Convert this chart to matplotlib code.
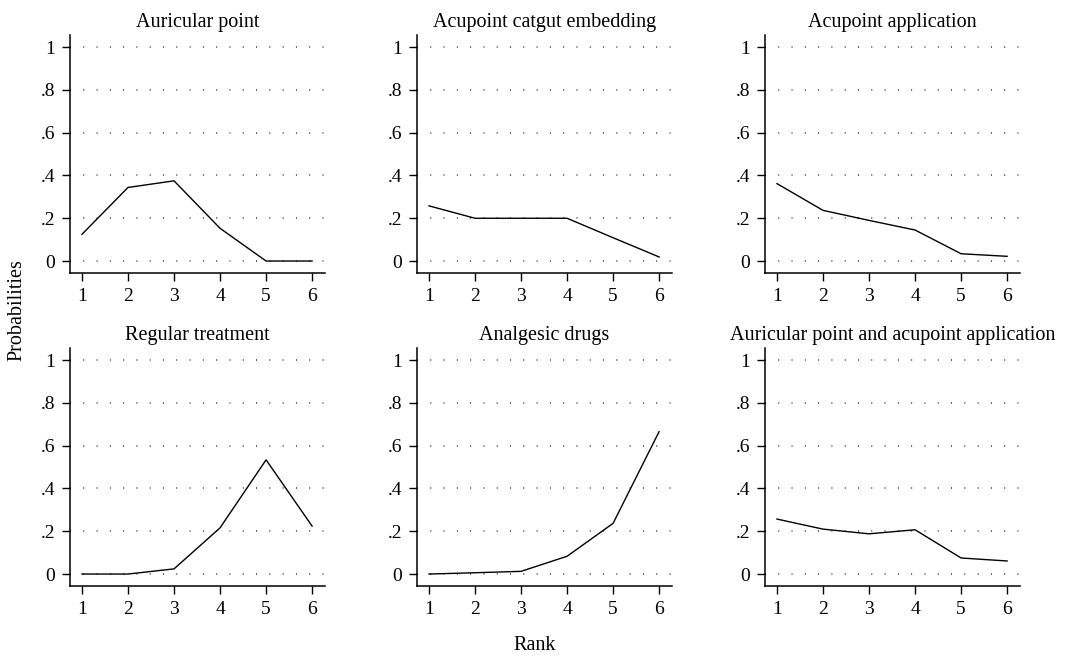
import matplotlib
matplotlib.use("Agg")
import matplotlib.pyplot as plt

plt.rcParams['font.family'] = ['Liberation Serif', 'DejaVu Serif']

ranks = [1, 2, 3, 4, 5, 6]
titles = ["Auricular point", "Acupoint catgut embedding", "Acupoint application",
          "Regular treatment", "Analgesic drugs", "Auricular point and acupoint application"]
auricular_point = [0.125, 0.344, 0.375, 0.153, 0.0, 0.0]
catgut_embedding = [0.258, 0.200, 0.200, 0.200, 0.109, 0.019]
acupoint_application = [0.362, 0.237, 0.190, 0.145, 0.034, 0.022]
regular_treatment = [0.0, 0.0, 0.024, 0.216, 0.534, 0.224]
analgesic_drugs = [0.0, 0.006, 0.0125, 0.083, 0.237, 0.666]
auricular_and_application = [0.257, 0.210, 0.188, 0.207, 0.075, 0.061]
series = [auricular_point, catgut_embedding, acupoint_application,
          regular_treatment, analgesic_drugs, auricular_and_application]
yticks = [0, 0.2, 0.4, 0.6, 0.8, 1.0]
ytick_labels = ["0", ".2", ".4", ".6", ".8", "1"]

W, H = 1073, 662
fig = plt.figure(figsize=(W / 100, H / 100), dpi=100)

lefts = [70, 417, 765]
tops = [35, 348]
aw, ah = 255, 238

for i, (title, vals) in enumerate(zip(titles, series)):
    r, c = divmod(i, 3)
    l = lefts[c]
    t = tops[r]
    ax = fig.add_axes([l / W, 1 - (t + ah) / H, aw / W, ah / H])
    ax.plot(ranks, vals, color='black', lw=1.0)
    ax.set_xlim(0.74, 6.28)
    ax.set_ylim(-0.056, 1.057)
    ax.set_yticks(yticks)
    ax.set_yticklabels(ytick_labels)
    ax.set_xticks(ranks)
    for y in yticks:
        ax.axhline(y, color='#222222', lw=1.1, dashes=(0.6, 8.1), zorder=0)
    ax.spines['top'].set_visible(False)
    ax.spines['right'].set_visible(False)
    ax.spines['left'].set_linewidth(1.1)
    ax.spines['bottom'].set_linewidth(1.1)
    ax.tick_params(axis='both', length=5.5, width=1.0, labelsize=14, colors='black')
    ax.tick_params(axis='y', pad=5)
    ax.tick_params(axis='x', pad=5)
    ax.set_title(title, fontsize=14.5, pad=6)

fig.text(17 / W, 1 - 310 / H, "Probabilities", rotation=90, ha='center', va='center', fontsize=14.5)
fig.text(535 / W, 1 - 645 / H, "Rank", ha='center', va='center', fontsize=14.5)

fig.savefig("out.png", dpi=100, facecolor='white')
